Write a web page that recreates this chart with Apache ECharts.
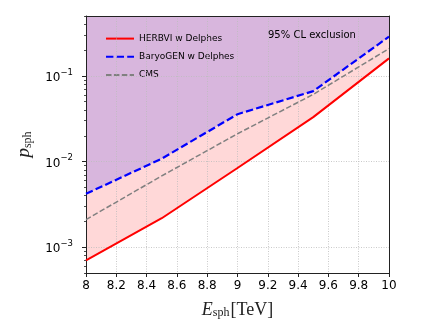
<!DOCTYPE html>
<html>
<head>
<meta charset="utf-8">
<script src="https://cdn.jsdelivr.net/npm/echarts@6/dist/echarts.min.js"></script>
<style>
  html, body { margin: 0; padding: 0; background: #fff; }
  #chart { width: 432px; height: 324px; }
</style>
</head>
<body>
<div id="chart"></div>
<script>
// sphaleron energy (TeV)
const energy = [8, 8.5, 9, 9.5, 10]
// 95% CL limits on p_sph
const herbvi = [0.0007, 0.00218, 0.0084, 0.033, 0.16]
const baryogen = [0.0042, 0.0108, 0.0357, 0.0664, 0.287]
const cms = [0.0021, 0.0068, 0.0211, 0.0608, 0.208]

const yMajorTicks = [0.001, 0.01, 0.1]
const yMinorTicks = [
  0.0005, 0.0006, 0.0007, 0.0008, 0.0009,
  0.002, 0.003, 0.004, 0.005, 0.006, 0.007, 0.008, 0.009,
  0.02, 0.03, 0.04, 0.05, 0.06, 0.07, 0.08, 0.09,
  0.2, 0.3, 0.4, 0.5,
]

const pairs = ys => energy.map((x, i) => [x, ys[i]])

const FONT = 'DejaVu Sans'
const SERIF = 'Liberation Serif'
const gridLine = { show: true, lineStyle: { color: '#bdbdbd', width: 0.8, type: [1, 1.5] } }

const chart = echarts.init(document.getElementById('chart'), null, { renderer: 'canvas' })

chart.setOption({
  animation: false,
  textStyle: { fontFamily: FONT },
  grid: { left: 86, right: 43, top: 16, bottom: 49 },
  legend: {
    data: ['HERBVI w Delphes', 'BaryoGEN w Delphes', 'CMS'],
    orient: 'vertical',
    left: 100,
    top: 28,
    itemWidth: 28,
    itemHeight: 14,
    itemGap: 7,
    itemStyle: { opacity: 0 },
    textStyle: { fontSize: 9, color: '#000', fontFamily: FONT },
  },
  graphic: [{
    type: 'text',
    left: 268,
    top: 30,
    z: 20,
    style: { text: '95% CL exclusion', fontSize: 10, fill: '#000', fontFamily: FONT },
  }],
  xAxis: [
    {
      type: 'value',
      min: 8,
      max: 10,
      interval: 0.2,
      z: 5,
      axisLine: { show: true, onZero: false, lineStyle: { color: '#222', width: 1 } },
      axisTick: { show: true, length: 4, lineStyle: { color: '#222' } },
      axisLabel: { fontSize: 12, color: '#000', margin: 7, fontFamily: FONT },
      splitLine: gridLine,
      name: '{i|E}{s|sph}{r|[TeV]}',
      nameLocation: 'middle',
      nameGap: 26,
      nameTextStyle: {
        rich: {
          i: { fontFamily: SERIF, fontStyle: 'italic', fontSize: 18, lineHeight: 20, verticalAlign: 'bottom' },
          s: { fontFamily: SERIF, fontSize: 12, lineHeight: 14, verticalAlign: 'bottom', padding: [0, 1, 0, 0] },
          r: { fontFamily: SERIF, fontSize: 18, lineHeight: 20, verticalAlign: 'bottom' },
        },
      },
    },
    {
      type: 'value',
      min: 8,
      max: 10,
      position: 'top',
      z: 5,
      axisLine: { show: true, onZero: false, lineStyle: { color: '#222', width: 1 } },
      axisTick: { show: false },
      axisLabel: { show: false },
      splitLine: { show: false },
    },
  ],
  yAxis: [
    {
      type: 'log',
      min: 0.0005,
      max: 0.5,
      z: 5,
      axisLine: { show: true, onZero: false, lineStyle: { color: '#222', width: 1 } },
      axisTick: { show: true, length: 4, customValues: yMajorTicks, lineStyle: { color: '#222' } },
      axisLabel: {
        customValues: yMajorTicks,
        margin: 13,
        formatter: v => '{b|10}{e|' + '\u2212' + Math.abs(Math.round(Math.log10(v))) + '}',
        rich: {
          b: { fontSize: 12, lineHeight: 16, verticalAlign: 'bottom', color: '#000', fontFamily: FONT },
          e: { fontSize: 8.5, lineHeight: 10, verticalAlign: 'top', color: '#000', fontFamily: FONT },
        },
      },
      splitLine: gridLine,
      name: '{i|p}{s|sph}',
      nameLocation: 'middle',
      nameRotate: 90,
      nameGap: 44,
      nameTextStyle: {
        rich: {
          i: { fontFamily: SERIF, fontStyle: 'italic', fontSize: 19, lineHeight: 20, verticalAlign: 'top' },
          s: { fontFamily: SERIF, fontSize: 12, lineHeight: 14, verticalAlign: 'bottom' },
        },
      },
    },
    {
      // minor log ticks
      type: 'log',
      min: 0.0005,
      max: 0.5,
      position: 'left',
      z: 5,
      axisLine: { show: false },
      axisTick: { show: true, length: 2, customValues: yMinorTicks, lineStyle: { color: '#222', width: 0.8 } },
      axisLabel: { show: false },
      splitLine: { show: false },
    },
    {
      type: 'log',
      min: 0.0005,
      max: 0.5,
      position: 'right',
      z: 5,
      axisLine: { show: true, onZero: false, lineStyle: { color: '#222', width: 1 } },
      axisTick: { show: false },
      axisLabel: { show: false },
      splitLine: { show: false },
    },
  ],
  series: [
    {
      name: 'fill-red',
      type: 'line',
      data: pairs(herbvi),
      symbol: 'none',
      z: 1,
      lineStyle: { width: 0 },
      areaStyle: { origin: 'end', color: '#ffd8d8', opacity: 1 },
      silent: true,
    },
    {
      name: 'fill-blue',
      type: 'line',
      data: pairs(baryogen),
      symbol: 'none',
      z: 1,
      lineStyle: { width: 0 },
      areaStyle: { origin: 'end', color: '#d8b6dd', opacity: 1 },
      silent: true,
    },
    {
      name: 'CMS',
      type: 'line',
      data: pairs(cms),
      symbol: 'none',
      z: 6,
      color: '#808080',
      lineStyle: { color: '#808080', width: 1.5, type: [5.5, 2.4] },
    },
    {
      name: 'BaryoGEN w Delphes',
      type: 'line',
      data: pairs(baryogen),
      symbol: 'none',
      z: 7,
      color: '#0000ff',
      lineStyle: { color: '#0000ff', width: 2.2, type: [7.4, 3.2] },
    },
    {
      name: 'HERBVI w Delphes',
      type: 'line',
      data: pairs(herbvi),
      symbol: 'none',
      z: 8,
      color: '#ff0000',
      lineStyle: { color: '#ff0000', width: 2 },
    },
  ],
})
</script>
</body>
</html>
